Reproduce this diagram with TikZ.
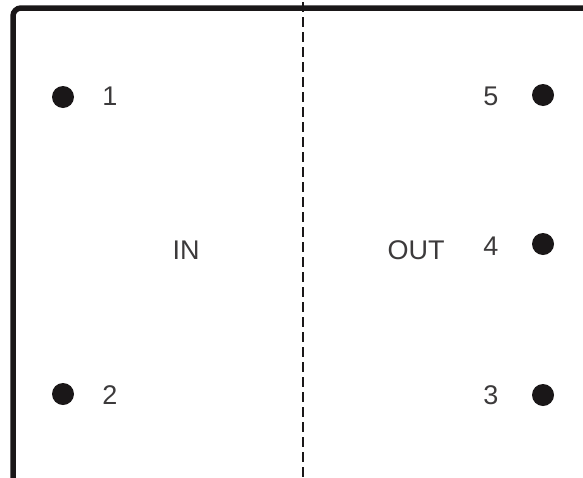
\documentclass[tikz,border=0pt]{standalone}
\usepackage{fontspec}
\setmainfont{Liberation Sans}
\usetikzlibrary{positioning}
\definecolor{termink}{HTML}{1A1718}

\begin{document}
\begin{tikzpicture}[
  x=1pt, y=-1pt,
  font=\fontsize{27}{32}\selectfont,
  pin dot/.style={circle, fill=termink, inner sep=0pt, minimum size=22pt},
  pinlabel/.style={text=termink!85, inner sep=0pt, anchor=center},
  frameline/.style={draw=termink, line width=5.5pt, rounded corners=8pt},
  splitline/.style={draw=termink, line width=2.6pt, dash pattern=on 10pt off 5pt}
]
\useasboundingbox (0,0) rectangle (583,477);
% outer frame
\coordinate (frameBL) at (13,480);
\coordinate (frameTL) at (13,8);
\coordinate (frameTR) at (586,8);
\draw[frameline] (frameBL) -- (frameTL) -- (frameTR);
% divider between the two sides
\coordinate (splitT) at (303,2);
\coordinate (splitB) at (303,477);
\draw[splitline] (splitT) -- (splitB);
% input side
\node[pin dot] (dot1) at (63,97) {};
\node[pin dot] (dot2) at (63,394) {};
\node[pinlabel] (num1) at (110,96) {1};
\node[pinlabel] (num2) at (110,395) {2};
\node[pinlabel] (inlbl) at (186,250) {IN};
% output side
\node[pin dot] (dot5) at (543,95) {};
\node[pin dot] (dot4) at (543,244) {};
\node[pin dot] (dot3) at (543,395) {};
\node[pinlabel] (num5) at (491,96) {5};
\node[pinlabel] (num4) at (491,246) {4};
\node[pinlabel] (num3) at (491,395) {3};
\node[pinlabel] (outlbl) at (416,250) {OUT};
\end{tikzpicture}
\end{document}
